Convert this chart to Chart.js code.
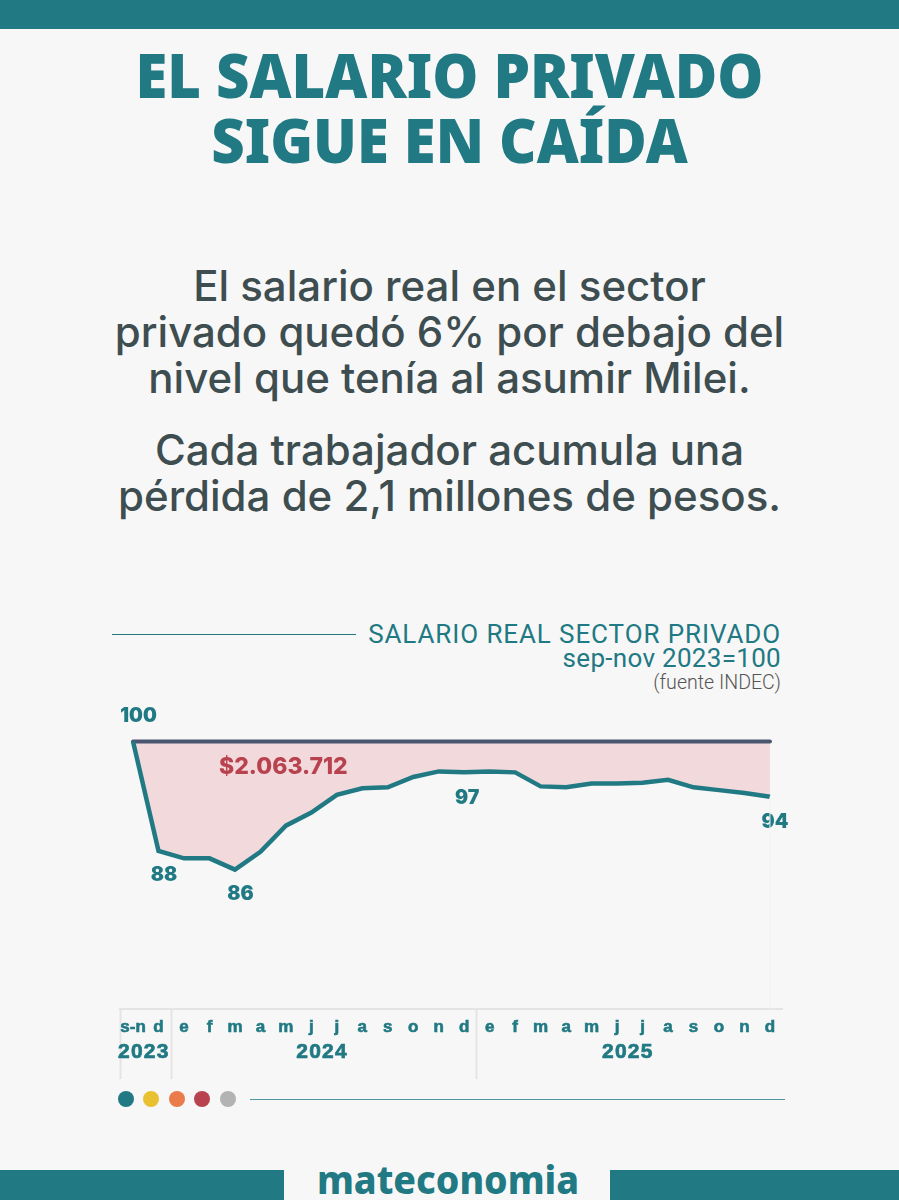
<!DOCTYPE html>
<html lang="es">
<head>
<meta charset="utf-8">
<title>El salario privado sigue en caída</title>
<script src="https://cdn.jsdelivr.net/npm/chart.js@4"></script>
<style>
  html, body { margin: 0; padding: 0; background: #f7f7f7; }
  #page { position: relative; width: 899px; height: 1200px; overflow: hidden; background: #f7f7f7; }
  #page > * { position: absolute; }
  .bar { background: #207983; }
  .title { left: 0; width: 899px; text-align: center; color: #207983; font: 900 62px/70px "Noto Sans", sans-serif; white-space: nowrap; transform: scaleX(0.935); }
  .lead { left: 0; width: 899px; text-align: center; color: #3d4d50; font: 550 42px/46px Inter, sans-serif; white-space: nowrap; }
  .sub { right: 118px; color: #207983; font: 400 26px/26px Roboto, sans-serif; white-space: nowrap; }
  .dot { width: 16px; height: 16px; border-radius: 50%; top: 1091px; }
  #chartBox { left: 100px; top: 700px; width: 700px; height: 385px; }
</style>
</head>
<body>
<div id="page">
  <div class="bar" style="left:0;top:0;width:899px;height:29px"></div>

  <div class="title" style="top:39px">EL SALARIO PRIVADO</div>
  <div class="title" style="top:104px">SIGUE EN CAÍDA</div>

  <div class="lead" style="top:263px">El salario real en el sector</div>
  <div class="lead" style="top:309px">privado quedó 6% por debajo del</div>
  <div class="lead" style="top:355px">nivel que tenía al asumir Milei.</div>
  <div class="lead" style="top:427px">Cada trabajador acumula una</div>
  <div class="lead" style="top:473px">pérdida de 2,1 millones de pesos.</div>

  <div style="left:112px;top:634px;width:244px;height:1px;background:#207983"></div>
  <div class="sub" style="top:621px;letter-spacing:0.9px">SALARIO REAL SECTOR PRIVADO</div>
  <div class="sub" style="top:645px;letter-spacing:0.3px">sep-nov 2023=100</div>
  <div class="sub" style="top:671px;color:#555;font-size:19.6px;line-height:24px;font-weight:300">(fuente INDEC)</div>

  <div id="chartBox"><canvas id="chart-salario"></canvas></div>

  <div class="dot" style="left:118px;background:#207983"></div>
  <div class="dot" style="left:143px;background:#e8c030"></div>
  <div class="dot" style="left:169px;background:#ea7b4b"></div>
  <div class="dot" style="left:194px;background:#b8434f"></div>
  <div class="dot" style="left:220px;background:#b3b3b3"></div>
  <div style="left:250px;top:1099px;width:535px;height:1px;background:#4f979e"></div>

  <div class="bar" style="left:0;top:1170px;width:284px;height:30px"></div>
  <div class="bar" style="left:610px;top:1170px;width:289px;height:30px"></div>
  <div style="left:285px;width:326px;top:1154px;text-align:center;color:#207983;font:800 39px/50px 'Noto Sans',sans-serif;transform:scaleX(0.96)">mateconomia</div>
</div>

<script>
var meses = ["s-n", "d", "e", "f", "m", "a", "m", "j", "j", "a", "s", "o", "n", "d", "e", "f", "m", "a", "m", "j", "j", "a", "s", "o", "n", "d"];
var salario = [100, 88.3, 87.5, 87.5, 86.3, 88.2, 91.0, 92.4, 94.3, 95.0, 95.1, 96.2, 96.8, 96.7, 96.8, 96.7, 95.2, 95.1, 95.5, 95.5, 95.6, 95.9, 95.1, 94.8, 94.5, 94.1];
var base = [100, 100, 100, 100, 100, 100, 100, 100, 100, 100, 100, 100, 100, 100, 100, 100, 100, 100, 100, 100, 100, 100, 100, 100, 100, 100];
var anios = ["2023", "2024", "2025"];
var aniosCentro = [0.5, 7.5, 19.5];
var cortesAnio = [0, 2, 14, 26];
var etiquetas = ["100", "88", "86", "97", "94"];
var etiquetasMes = [0, 1, 4, 13, 25];
var perdida = "$2.063.712";

var TEAL = "#207983";

// etiquetas de valores y años, con la misma escala del grafico
var textosPlugin = {
  id: "textos",
  afterDraw: function (chart) {
    var c = chart.ctx;
    var x = chart.scales.x;
    var y = chart.scales.y;
    var despX = [5.5, 5.5, 5.5, 3, 5];
    var despY = [-25, 24, 24.5, 25.5, 25];

    c.save();
    c.textAlign = "center";
    c.textBaseline = "middle";
    c.fillStyle = TEAL;
    c.font = "900 19.5px Inter";
    etiquetas.forEach(function (t, i) {
      var m = etiquetasMes[i];
      c.fillText(t, x.getPixelForValue(m) + despX[i], y.getPixelForValue(salario[m]) + despY[i]);
    });

    c.fillStyle = "#b8434f";
    c.font = "800 23px Inter";
    c.fillText(perdida, x.getPixelForValue(6) - 2.5, y.getPixelForValue(100) + 25.5);

    c.fillStyle = TEAL;
    c.strokeStyle = TEAL;
    c.lineWidth = 0.7;
    c.font = "bold 21px 'Liberation Sans'";
    c.letterSpacing = "1.2px";
    anios.forEach(function (t, i) {
      var px = x.getPixelForValue(aniosCentro[i]) - 2;
      c.fillText(t, px, 1052.5 - 700);
      c.strokeText(t, px, 1052.5 - 700);
    });
    c.letterSpacing = "0px";

    // guia muy tenue bajo el ultimo punto
    var ux = x.getPixelForValue(meses.length - 1);
    c.strokeStyle = "#f2f2f2";
    c.lineWidth = 1;
    c.beginPath();
    c.moveTo(ux, y.getPixelForValue(salario[meses.length - 1]));
    c.lineTo(ux, y.bottom);
    c.stroke();
    c.restore();
  },
};

new Chart(document.getElementById("chart-salario"), {
  type: "line",
  data: {
    labels: meses,
    datasets: [
      {
        label: "Salario real",
        data: salario,
        borderColor: TEAL,
        borderWidth: 4.5,
        pointRadius: 0,
        tension: 0,
        clip: false,
        fill: { target: 1, above: "#f2d9dc", below: "#f2d9dc" },
        order: 1,
      },
      {
        label: "Base",
        data: base,
        borderColor: "#4a5670",
        borderWidth: 4,
        borderCapStyle: "round",
        pointRadius: 0,
        clip: false,
        fill: false,
        order: 2,
      },
    ],
  },
  options: {
    responsive: true,
    maintainAspectRatio: false,
    animation: false,
    layout: { padding: { left: 20.3, right: 17.3, top: 41.5, bottom: 0 } },
    plugins: {
      legend: { display: false },
      tooltip: { enabled: false },
      filler: { drawTime: "beforeDatasetsDraw" },
    },
    scales: {
      x: {
        offset: true,
        grid: {
          offset: true,
          drawOnChartArea: false,
          tickLength: 70,
          tickWidth: 2,
          color: function (ctx) {
            return cortesAnio.indexOf(ctx.index) >= 0 ? "#e4e4e4" : "transparent";
          },
          tickColor: function (ctx) {
            return cortesAnio.indexOf(ctx.index) >= 0 ? "#e4e4e4" : "transparent";
          },
        },
        border: { display: true, color: "#e4e4e4", width: 2 },
        ticks: {
          autoSkip: false,
          maxRotation: 0,
          padding: -62,
          color: TEAL,
          font: { family: "'Liberation Sans'", size: 17, weight: "bold" },
          textStrokeColor: TEAL,
          textStrokeWidth: 0.6,
        },
        afterFit: function (scale) {
          scale.height = 76;
        },
      },
      y: {
        display: false,
        min: 71.39,
        max: 100,
      },
    },
  },
  plugins: [textosPlugin],
});
</script>
</body>
</html>
